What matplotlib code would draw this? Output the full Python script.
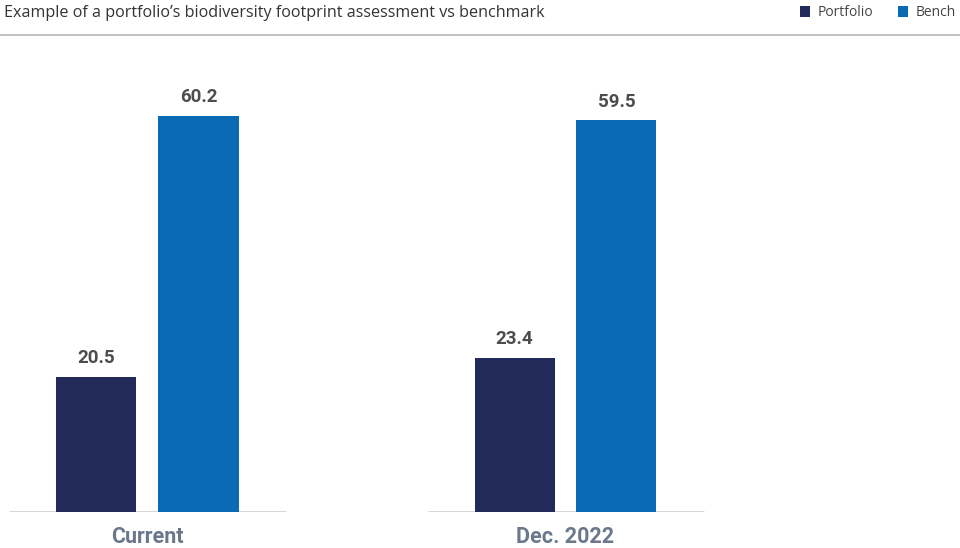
import matplotlib
matplotlib.use("Agg")
import matplotlib.pyplot as plt
from matplotlib.patches import Patch
import numpy as np

categories = ["Current", "Dec. 2022"]
portfolio = [20.5, 23.4]
benchmark = [60.2, 59.5]
series_names = ["Portfolio", "Bench"]
title = "Example of a portfolio\u2019s biodiversity footprint assessment vs benchmark"

c_port = "#222a5a"
c_bench = "#0a6ab4"
c_val = "#4d4d4d"
c_cat = "#6b788c"

W, H = 960, 548
fig = plt.figure(figsize=(W / 100, H / 100), dpi=100)
plt.rcParams['font.family'] = ['Open Sans', 'DejaVu Sans']

# axes geometry (pixels)
base_px = 512
top_px = 50
ax = fig.add_axes([0, (H - base_px) / H, 1, (base_px - top_px) / H])
ppu = 6.58  # pixels per value unit
ax.set_ylim(0, (base_px - top_px) / ppu)
unit = 418.0
c0 = 147.5
ax.set_xlim(-c0 / unit, (W - c0) / unit)
ax.axis("off")

x = np.arange(len(categories))
bw = 80 / unit
off = 51 / unit
b1 = ax.bar(x - off, portfolio, bw, color=c_port)
b2 = ax.bar(x + off, benchmark, bw, color=c_bench)

for bars, vals in ((b1, portfolio), (b2, benchmark)):
    for b, v in zip(bars, vals):
        ax.annotate(f"{v:.1f}", (b.get_x() + b.get_width() / 2, v),
                    xytext=(0, 7), textcoords="offset points",
                    ha="center", va="bottom", fontsize=13.5,
                    fontweight="bold", color=c_val, family=["Roboto", "DejaVu Sans"])

half = 138 / unit
ax.hlines([0] * len(x), x - half, x + half, colors="#d3d3d3", linewidth=2, zorder=0)

for xi, cat in zip(x, categories):
    ax.annotate(cat, (xi, 0), xytext=(0, -18), textcoords="offset points",
                ha="center", va="center", fontsize=15.5, fontweight="bold",
                color=c_cat, family=["Roboto", "DejaVu Sans"], annotation_clip=False)

fig.text(4 / W, 1 - 13 / H, title, ha="left", va="center", fontsize=11.6,
         color="#333333", family=["Open Sans", "DejaVu Sans"])
fig.add_artist(plt.Line2D([0, 1], [1 - 35 / H, 1 - 35 / H], color="#b5b5b5", linewidth=1.2))

handles = [Patch(facecolor=c_port), Patch(facecolor=c_bench)]
fig.legend(handles, series_names, loc="center left", bbox_to_anchor=(800 / W, 1 - 13 / H),
           ncol=2, frameon=False, handlelength=0.75, handleheight=0.9, handletextpad=0.5,
           columnspacing=1.8, borderpad=0, borderaxespad=0,
           prop={"family": ["Open Sans", "DejaVu Sans"], "size": 10}, labelcolor="#444444")

fig.savefig("out.png", dpi=100)
